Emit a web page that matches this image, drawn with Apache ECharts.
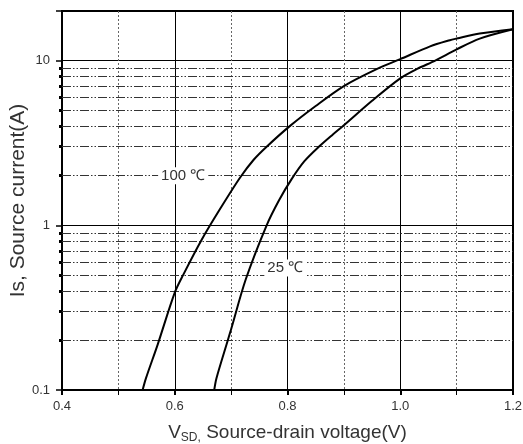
<!DOCTYPE html>
<html>
<head>
<meta charset="utf-8">
<script src="https://cdn.jsdelivr.net/npm/echarts@6/dist/echarts.min.js"></script>
<style>
html,body{margin:0;padding:0;background:#fff;}
#c{width:523px;height:444px;}
</style>
</head>
<body>
<div id="c"></div>
<script>
// Data (V_SD in volts, Is in amperes)
const curve100 = [
  [0.543,0.1],[0.549,0.118],[0.570,0.19],[0.600,0.39],[0.615,0.50],[0.648,0.82],
  [0.680,1.25],[0.716,1.95],[0.740,2.5],[0.763,3.0],[0.804,4.0],[0.850,5.3],[0.900,7.0],
  [0.959,8.9],[1.000,10.2],[1.053,12.2],[1.088,13.3],[1.100,13.6],[1.141,14.6],[1.200,15.5]
];
const curve25 = [
  [0.670,0.1],[0.674,0.118],[0.694,0.2],[0.700,0.234],[0.726,0.47],[0.763,1.0],
  [0.785,1.42],[0.807,1.9],[0.830,2.45],[0.858,3.05],[0.880,3.55],[0.900,4.05],[0.950,5.7],
  [1.000,7.8],[1.030,8.9],[1.062,10.0],[1.100,11.7],[1.141,13.6],[1.200,15.5]
];
const yTickLabels = ['0.1','1','10'];
const minorGridY = [0.2,0.3,0.4,0.5,0.6,0.7,0.8,0.9,2,3,4,5,6,7,8,9];
const label100 = {text:'100 ℃', at:[0.615,2.0]};
const label25 = {text:'25 ℃', at:[0.796,0.55]};

const chart = echarts.init(document.getElementById('c'), null, {renderer:'canvas'});
const txt = '#333';
const fontFam = '"Liberation Sans", Arial, sans-serif';

const option = {
  animation:false,
  backgroundColor:'#fff',
  grid:{left:62,right:10,top:11,bottom:54,containLabel:false,outerBoundsMode:'none',
    show:true,borderColor:'#000',borderWidth:2,backgroundColor:'transparent'},
  xAxis:{
    type:'value',min:0.4,max:1.2,interval:0.2,
    name:'{v|V}{sub|SD,}{v| Source-drain voltage(V)}',
    nameLocation:'middle',nameGap:32,nameMoveOverlap:false,
    nameTextStyle:{rich:{
      v:{fontSize:19,color:txt,fontFamily:fontFam},
      sub:{fontSize:12,color:txt,fontFamily:fontFam,padding:[10,0,0,0]}
    }},
    axisLine:{lineStyle:{color:'#000',width:2}},
    axisTick:{show:true,inside:false,length:5,lineStyle:{color:'#000',width:2}},
    minorTick:{show:true,splitNumber:2,length:5,lineStyle:{color:'#000',width:1}},
    axisLabel:{color:txt,fontSize:13,fontFamily:fontFam,margin:10,formatter:v=>v.toFixed(1)},
    splitLine:{show:true,lineStyle:{color:'#000',width:1}},
    minorSplitLine:{show:true,lineStyle:{color:'#666',width:1,type:[2,2]}}
  },
  yAxis:{
    type:'log',logBase:10,min:0.1,max:20,
    name:'Is, Source current(A)',
    nameLocation:'middle',nameGap:33,nameMoveOverlap:false,
    nameTextStyle:{fontSize:21,color:txt,fontFamily:fontFam},
    axisLine:{lineStyle:{color:'#000',width:2}},
    axisTick:{show:true,inside:false,length:6,lineStyle:{color:'#000',width:1.5}},
    minorTick:{show:true,splitNumber:9,length:3,lineStyle:{color:'#000',width:3}},
    axisLabel:{color:txt,fontSize:13,fontFamily:fontFam,margin:12,
      formatter:function(v){
        const s = String(+v.toPrecision(3));
        return yTickLabels.indexOf(s)>=0 ? s : '';
      }},
    splitLine:{show:true,lineStyle:{color:'#000',width:1}}
  },
  series:[
    {
      type:'line',data:curve100,showSymbol:false,smooth:0.3,
      lineStyle:{color:'#000',width:2},
      markLine:{
        silent:true,symbol:['none','none'],label:{show:false},
        lineStyle:{color:'#333',width:1,type:[9,2,1.5,2,1.5,2]},
        data:minorGridY.map(v=>({yAxis:v}))
      },
      markPoint:{
        silent:true,symbol:'rect',symbolSize:0,
        data:[{coord:label100.at,value:label100.text}],
        label:{show:true,position:'inside',formatter:label100.text,color:txt,fontSize:15,fontFamily:fontFam,
          backgroundColor:'#fff',padding:[1,3]}
      },
      z:5
    },
    {
      type:'line',data:curve25,showSymbol:false,smooth:0.3,
      lineStyle:{color:'#000',width:2},
      markPoint:{
        silent:true,symbol:'rect',symbolSize:0,
        data:[{coord:label25.at,value:label25.text}],
        label:{show:true,position:'inside',formatter:label25.text,color:txt,fontSize:15,fontFamily:fontFam,
          backgroundColor:'#fff',padding:[1,3]}
      },
      z:5
    }
  ]
};
chart.setOption(option);
</script>
</body>
</html>
